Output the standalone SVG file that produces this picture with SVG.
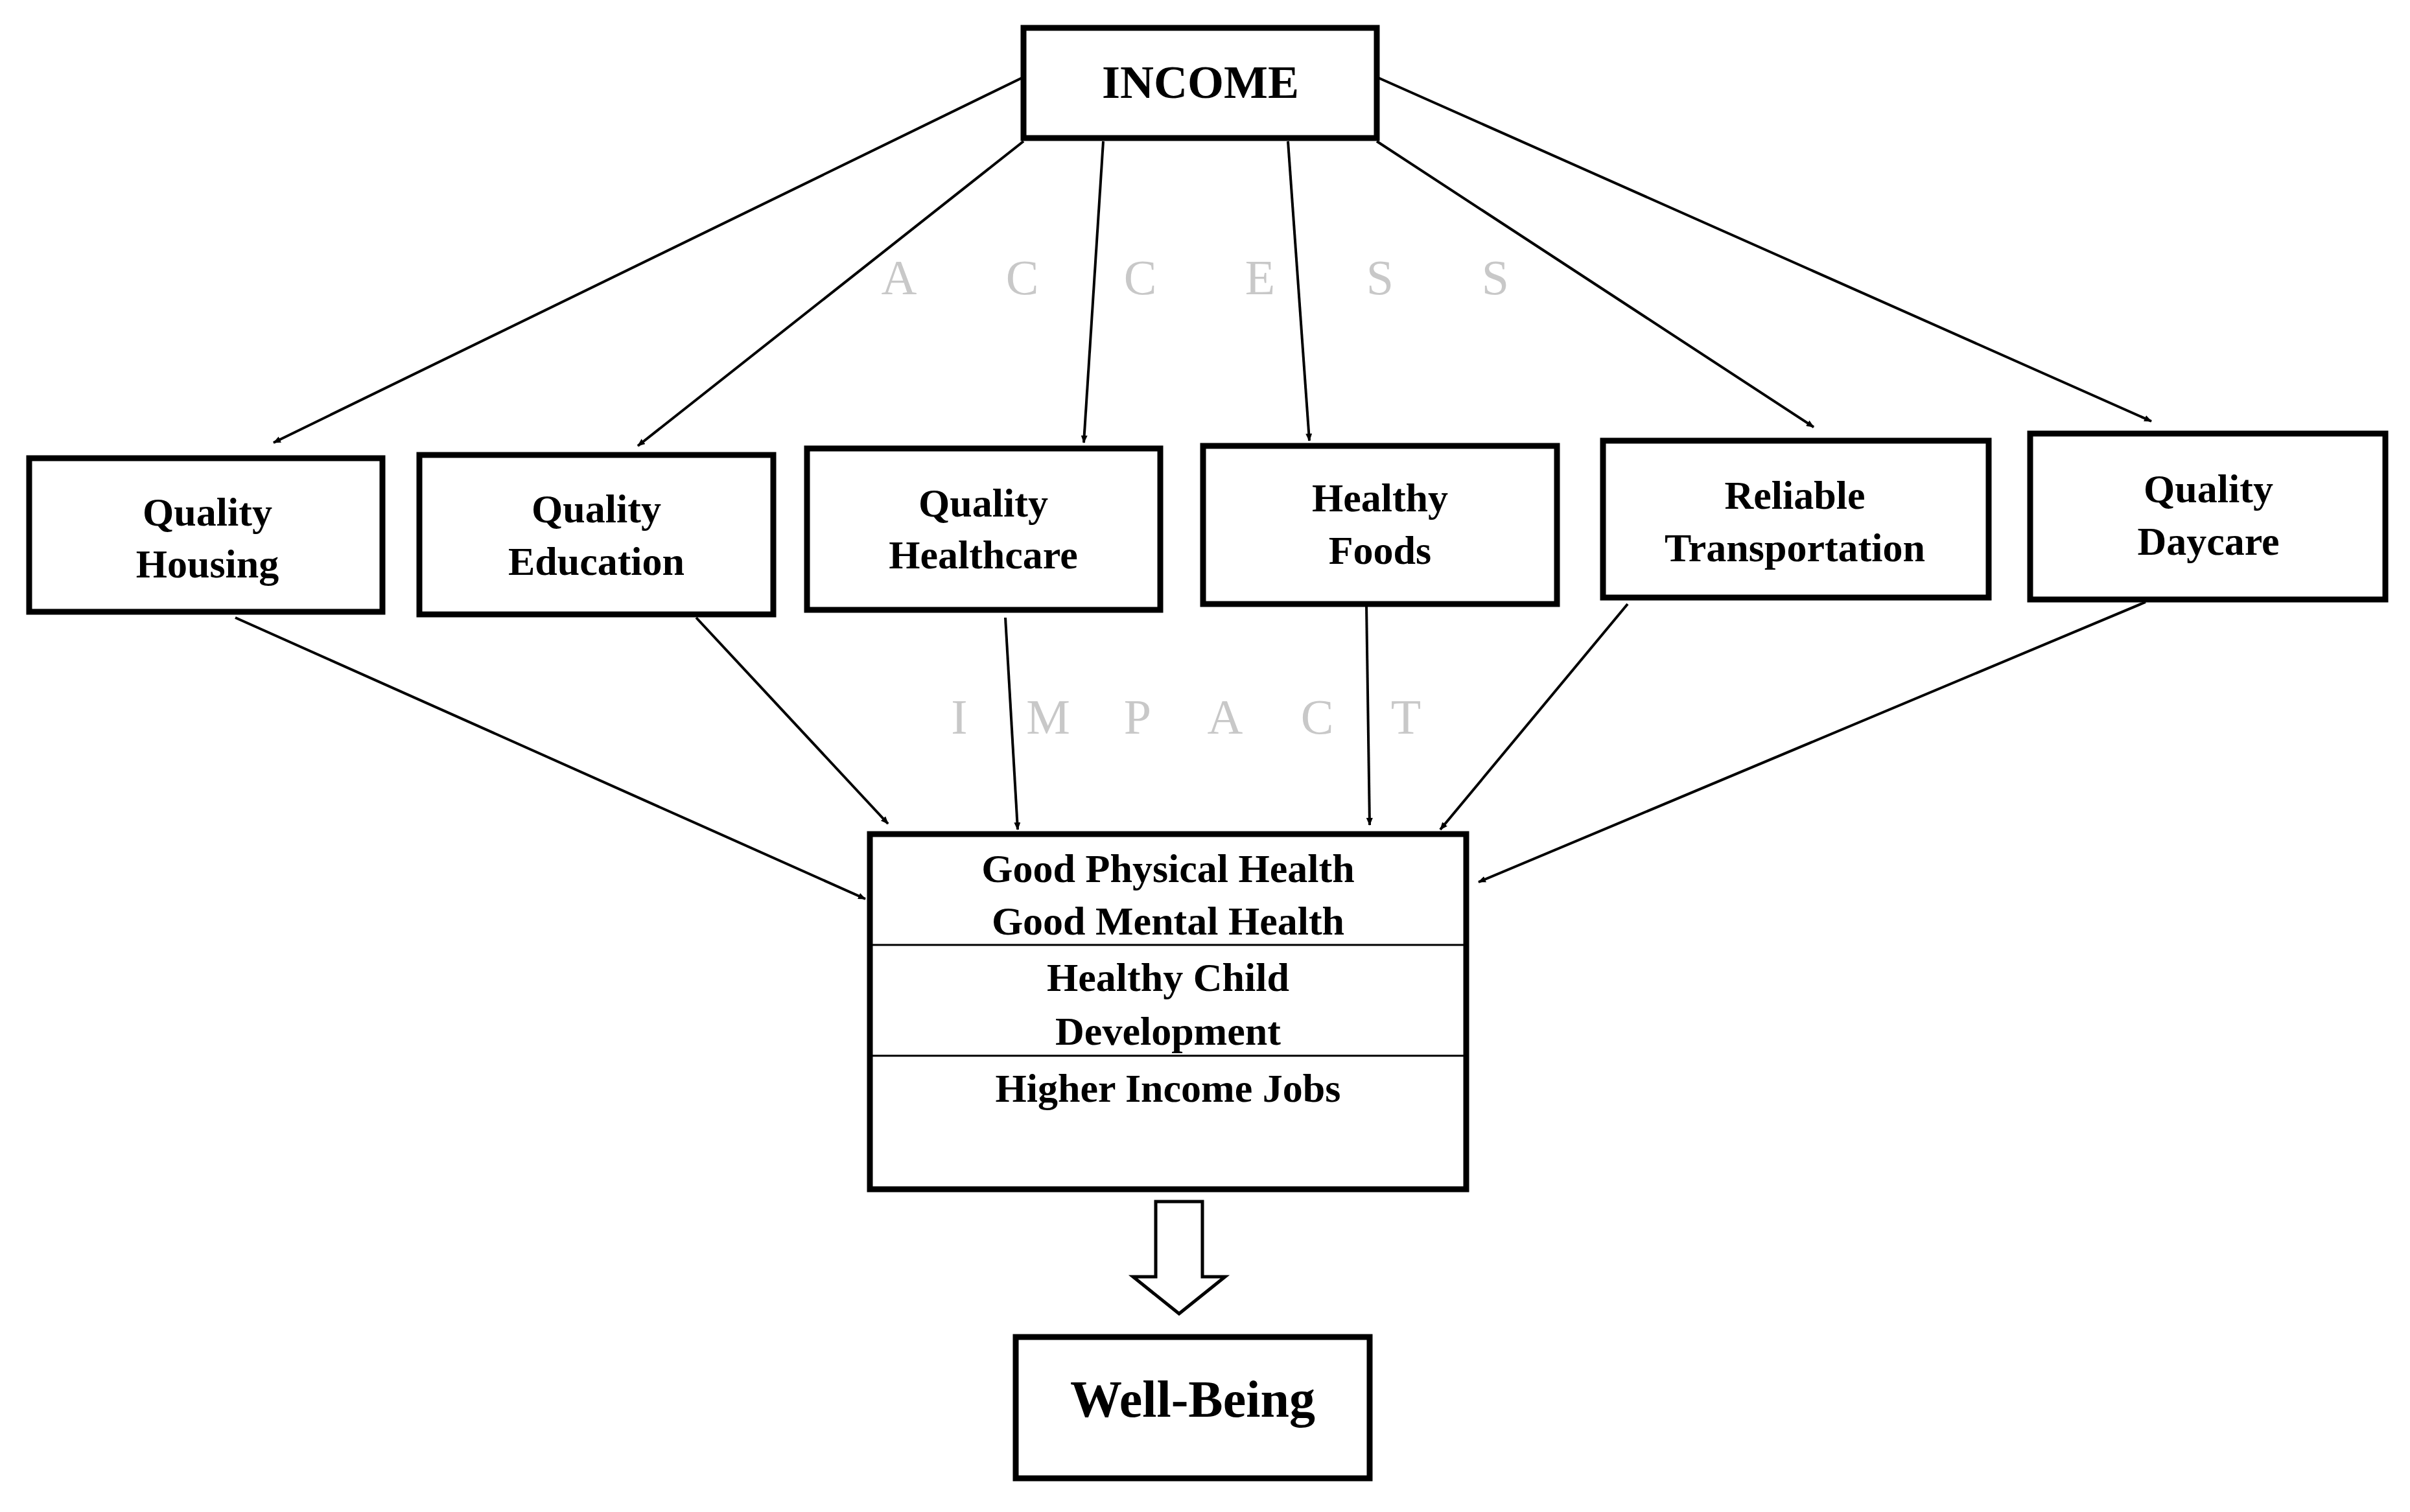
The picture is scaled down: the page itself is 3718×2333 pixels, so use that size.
<svg xmlns="http://www.w3.org/2000/svg" width="3718" height="2333" viewBox="0 0 3718 2333">
<style>
.b{fill:#fff;stroke:#000;stroke-width:9}
.t{font-family:"Liberation Serif",serif;font-weight:bold;font-size:62px;text-anchor:middle;fill:#000}
.g{font-family:"Liberation Serif",serif;font-size:76px;text-anchor:middle;fill:#c8c8c8}
.c line{stroke:#000;stroke-width:4;marker-end:url(#a)}
</style>
<defs><marker id="a" markerWidth="12" markerHeight="10" refX="11" refY="5" orient="auto" markerUnits="userSpaceOnUse" viewBox="0 0 12 10"><path d="M0,0L12,5L0,10z"/></marker>
<marker id="ah" markerWidth="44" markerHeight="34" refX="42" refY="17" orient="auto" markerUnits="userSpaceOnUse" viewBox="0 0 44 34"><path d="M0,0L44,17L0,34z"/></marker></defs>
<rect width="3718" height="2333" fill="#fff"/>
<g class="c">
<line x1="1579" y1="119" x2="422" y2="683" marker-end="url(#ah)"/>
<line x1="1579" y1="218" x2="984" y2="688" marker-end="url(#ah)"/>
<line x1="1702" y1="218" x2="1672" y2="683" marker-end="url(#ah)"/>
<line x1="1987" y1="218" x2="2020" y2="680" marker-end="url(#ah)"/>
<line x1="2124" y1="218" x2="2798" y2="659" marker-end="url(#ah)"/>
<line x1="2124" y1="119" x2="3319" y2="650" marker-end="url(#ah)"/>
<line x1="363" y1="953" x2="1335" y2="1387" marker-end="url(#ah)"/>
<line x1="1074" y1="953" x2="1370" y2="1271" marker-end="url(#ah)"/>
<line x1="1551" y1="953" x2="1570" y2="1280" marker-end="url(#ah)"/>
<line x1="2108" y1="932" x2="2113" y2="1273" marker-end="url(#ah)"/>
<line x1="2511" y1="932" x2="2222" y2="1280" marker-end="url(#ah)"/>
<line x1="3310" y1="929" x2="2281" y2="1361" marker-end="url(#ah)"/>
<path d="M1783,1854H1855V1970H1890L1819,2027L1748,1970H1783Z" fill="#fff" stroke="#000" stroke-width="5"/>
</g>
<g id="income"><rect class="b" x="1579" y="43" width="545" height="170"/><text class="t" x="1852" y="151" style="font-size:72px">INCOME</text></g>
<g id="housing"><rect class="b" x="45" y="707" width="545" height="237"/><text class="t" x="320" y="811">Quality</text><text class="t" x="320" y="891">Housing</text></g>
<g id="education"><rect class="b" x="647" y="702" width="546" height="246"/><text class="t" x="920" y="806">Quality</text><text class="t" x="920" y="887">Education</text></g>
<g id="healthcare"><rect class="b" x="1245" y="692" width="545" height="249"/><text class="t" x="1517" y="797">Quality</text><text class="t" x="1517" y="877">Healthcare</text></g>
<g id="foods"><rect class="b" x="1856" y="688" width="546" height="244"/><text class="t" x="2129" y="789">Healthy</text><text class="t" x="2129" y="870">Foods</text></g>
<g id="transport"><rect class="b" x="2473" y="680" width="595" height="242"/><text class="t" x="2769" y="785">Reliable</text><text class="t" x="2769" y="866">Transportation</text></g>
<g id="daycare"><rect class="b" x="3132" y="669" width="548" height="256"/><text class="t" x="3407" y="775">Quality</text><text class="t" x="3407" y="856">Daycare</text></g>
<g id="outcomes"><rect class="b" x="1342" y="1287" width="920" height="548"/>
<line x1="1342" y1="1458" x2="2262" y2="1458" stroke="#000" stroke-width="3"/><line x1="1342" y1="1629" x2="2262" y2="1629" stroke="#000" stroke-width="3"/>
<text class="t" x="1802" y="1361">Good Physical Health</text><text class="t" x="1802" y="1442">Good Mental Health</text><text class="t" x="1802" y="1529">Healthy Child</text><text class="t" x="1802" y="1612">Development</text><text class="t" x="1802" y="1700">Higher Income Jobs</text></g>
<g id="wellbeing"><rect class="b" x="1567" y="2063" width="546" height="218"/><text class="t" x="1840" y="2186" style="font-size:80px">Well-Being</text></g>
<g id="labels">
<text class="g" x="1387" y="454">A</text><text class="g" x="1577" y="454">C</text><text class="g" x="1759" y="454">C</text><text class="g" x="1944" y="454">E</text><text class="g" x="2129" y="454">S</text><text class="g" x="2307" y="454">S</text>
<text class="g" x="1480" y="1132">I</text><text class="g" x="1617" y="1132">M</text><text class="g" x="1755" y="1132">P</text><text class="g" x="1890" y="1132">A</text><text class="g" x="2032" y="1132">C</text><text class="g" x="2169" y="1132">T</text>
</g>
</svg>
